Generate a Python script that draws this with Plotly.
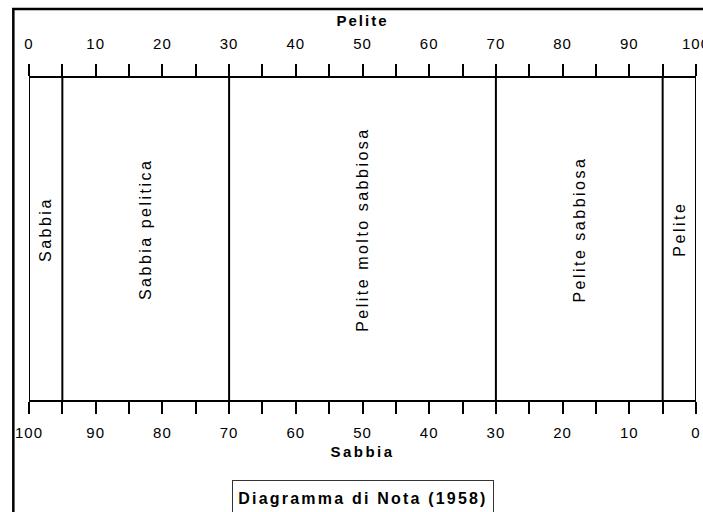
import plotly.graph_objects as go

# ---- data -------------------------------------------------------------
pelite_tick_values = [0, 5, 10, 15, 20, 25, 30, 35, 40, 45, 50, 55, 60, 65, 70, 75, 80, 85, 90, 95, 100]
pelite_tick_labels = ["0", "", "10", "", "20", "", "30", "", "40", "", "50", "", "60", "", "70", "", "80", "", "90", "", "100"]
sabbia_tick_values = [0, 5, 10, 15, 20, 25, 30, 35, 40, 45, 50, 55, 60, 65, 70, 75, 80, 85, 90, 95, 100]
sabbia_tick_labels = ["0", "", "10", "", "20", "", "30", "", "40", "", "50", "", "60", "", "70", "", "80", "", "90", "", "100"]
class_bounds_pelite = [0, 5, 30, 70, 95, 100]
class_names = ["Sabbia", "Sabbia pelitica", "Pelite molto sabbiosa", "Pelite sabbiosa", "Pelite"]
top_title = "Pelite"
bottom_title = "Sabbia"
chart_title = "Diagramma di Nota (1958)"

# ---- helpers ----------------------------------------------------------
FONT = "Liberation Sans, Arial, Helvetica, sans-serif"


def spaced(text, px, bold=False):
    if not text:
        return ""
    inner = f"<b>{text}</b>" if bold else text
    return f'<span style="letter-spacing:{px}px">{inner}</span>'


fig = go.Figure()

# class boundaries (vertical lines) drawn on the Pelite axis
for b in class_bounds_pelite:
    fig.add_trace(go.Scatter(x=[b, b], y=[0, 1], xaxis="x2", yaxis="y", mode="lines",
                             line=dict(color="black", width=2), hoverinfo="skip",
                             showlegend=False, cliponaxis=False))
# the same boundaries on the Sabbia axis (invisible, keeps the bottom axis bound)
fig.add_trace(go.Scatter(x=[100 - b for b in class_bounds_pelite], y=[0.5] * len(class_bounds_pelite),
                         xaxis="x", yaxis="y", mode="markers", marker=dict(opacity=0),
                         hoverinfo="skip", showlegend=False))

# class labels
for i, name in enumerate(class_names):
    mid = (class_bounds_pelite[i] + class_bounds_pelite[i + 1]) / 2
    fig.add_annotation(x=mid, y=0.53, xref="x2", yref="y", text=spaced(name, 2.5),
                       textangle=-90, showarrow=False,
                       font=dict(family=FONT, size=16, color="black"))

axis_common = dict(showgrid=False, zeroline=False, showline=True, linecolor="black", linewidth=2,
                   ticks="outside", ticklen=12, tickwidth=2, tickcolor="black",
                   tickfont=dict(family=FONT, size=15, color="black"), fixedrange=True,
                   automargin=False, ticklabeloverflow="allow")

fig.update_layout(
    template="none",
    width=703, height=512,
    margin=dict(l=29, r=7, t=78, b=112, pad=0, autoexpand=False),
    paper_bgcolor="white", plot_bgcolor="white",
    xaxis=dict(range=[100, 0], tickmode="array", tickvals=sabbia_tick_values,
               ticktext=[spaced(t, 1) for t in sabbia_tick_labels],
               ticklabelstandoff=6, side="bottom",
               title=dict(text=spaced(bottom_title, 2.5, bold=True),
                          font=dict(family=FONT, size=15, color="black"), standoff=6),
               **axis_common),
    xaxis2=dict(range=[0, 100], tickmode="array", tickvals=pelite_tick_values,
                ticktext=[spaced(t, 1) for t in pelite_tick_labels],
                ticklabelstandoff=9, side="top", overlaying="x", anchor="y",
                title=dict(text=spaced(top_title, 2, bold=True),
                           font=dict(family=FONT, size=15, color="black"), standoff=5),
                **axis_common),
    yaxis=dict(range=[0, 1], visible=False, fixedrange=True, automargin=False),
    showlegend=False,
)

# outer frame (top and left edges visible, the rest runs off the page)
fig.add_shape(type="rect", xref="paper", yref="paper",
              x0=-0.0235, x1=1.3, y0=-0.6, y1=1.2143,
              line=dict(color="black", width=2.5), fillcolor="rgba(0,0,0,0)", layer="above")

# title box
fig.add_annotation(x=0.5, y=-0.304, xref="paper", yref="paper", xanchor="center", yanchor="middle",
                   text=spaced(chart_title, 2.2, bold=True), showarrow=False,
                   font=dict(family=FONT, size=16, color="black"),
                   bordercolor="#333333", borderwidth=1, borderpad=0, width=260, height=34,
                   bgcolor="white")

# remove the browser's default 8px page margin so the figure fills the window
fig.write_html("out.html", config={"displayModeBar": False},
               post_script="document.body.style.margin='0';document.body.style.overflow='hidden';")
